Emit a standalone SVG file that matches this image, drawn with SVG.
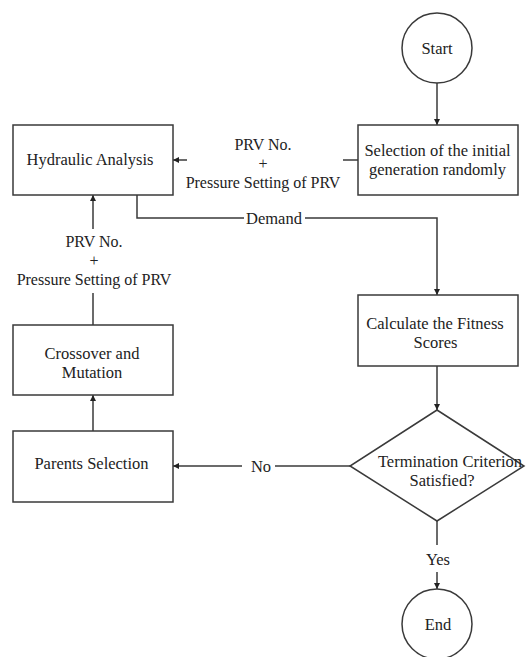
<svg xmlns="http://www.w3.org/2000/svg" width="530" height="657" viewBox="0 0 530 657">
<style>
.n{fill:#fff;stroke:#3a3a3a;stroke-width:1.5}
.c{fill:none;stroke:#3a3a3a;stroke-width:1.5}
text{font-family:'Liberation Serif','DejaVu Serif',serif;font-size:16.5px;fill:#222;text-anchor:middle}
.l{font-size:16px}
</style>
<defs>
<marker id="ah" viewBox="0 0 10 10" refX="10" refY="5" markerWidth="6" markerHeight="6" orient="auto" markerUnits="userSpaceOnUse">
<path d="M0,0 L10,5 L0,10 z" fill="#222"/>
</marker>
</defs>
<rect width="530" height="657" fill="#fff"/>
<g id="connectors">
<line class="c" x1="437" y1="83" x2="437" y2="125" marker-end="url(#ah)"/>
<line class="c" x1="358" y1="160" x2="343" y2="160"/>
<line class="c" x1="187" y1="160" x2="173" y2="160" marker-end="url(#ah)"/>
<polyline class="c" points="137,195 137,218 244,218"/>
<polyline class="c" points="305,218 437,218 437,295" marker-end="url(#ah)"/>
<line class="c" x1="437" y1="366" x2="437" y2="410" marker-end="url(#ah)"/>
<line class="c" x1="350" y1="466" x2="275" y2="466"/>
<line class="c" x1="242" y1="466" x2="173" y2="466" marker-end="url(#ah)"/>
<line class="c" x1="93" y1="431" x2="93" y2="395" marker-end="url(#ah)"/>
<line class="c" x1="93" y1="325" x2="93" y2="293"/>
<line class="c" x1="93" y1="229" x2="93" y2="195" marker-end="url(#ah)"/>
<line class="c" x1="437" y1="521" x2="437" y2="545"/>
<line class="c" x1="437" y1="572" x2="437" y2="589" marker-end="url(#ah)"/>
<text class="l" x="263" y="150" font-family="Liberation Serif, serif">PRV No.</text>
<text class="l" x="263" y="169" font-family="Liberation Serif, serif">+</text>
<text class="l" x="263" y="188" font-family="Liberation Serif, serif">Pressure Setting of PRV</text>
<text x="274" y="224" font-family="Liberation Serif, serif">Demand</text>
<text class="l" x="94" y="247" font-family="Liberation Serif, serif">PRV No.</text>
<text class="l" x="94" y="266" font-family="Liberation Serif, serif">+</text>
<text class="l" x="94" y="285" font-family="Liberation Serif, serif">Pressure Setting of PRV</text>
<text x="261" y="472" font-family="Liberation Serif, serif">No</text>
<text x="438" y="565" font-family="Liberation Serif, serif">Yes</text>
</g>
<g id="start">
<circle class="n" cx="437" cy="48" r="35"/>
<text x="437" y="54" font-family="Liberation Serif, serif">Start</text>
</g>
<g id="selection">
<rect class="n" x="358" y="125" width="160" height="70"/>
<text x="437.5" y="156" font-family="Liberation Serif, serif">Selection of the initial</text>
<text x="437.5" y="175" font-family="Liberation Serif, serif">generation randomly</text>
</g>
<g id="hydraulic">
<rect class="n" x="13" y="125" width="160" height="70"/>
<text x="90" y="165" font-family="Liberation Serif, serif">Hydraulic Analysis</text>
</g>
<g id="fitness">
<rect class="n" x="358" y="295" width="160" height="71"/>
<text x="435" y="329" font-family="Liberation Serif, serif">Calculate the Fitness</text>
<text x="435.5" y="348" font-family="Liberation Serif, serif">Scores</text>
</g>
<g id="decision">
<polygon class="n" points="437,410 524,466 437,521 350,466"/>
<text x="450" y="467" font-family="Liberation Serif, serif">Termination Criterion</text>
<text x="442" y="486" font-family="Liberation Serif, serif">Satisfied?</text>
</g>
<g id="parents">
<rect class="n" x="13" y="431" width="160" height="71"/>
<text x="91.5" y="469" font-family="Liberation Serif, serif">Parents Selection</text>
</g>
<g id="crossover">
<rect class="n" x="13" y="325" width="160" height="70"/>
<text x="92" y="359" font-family="Liberation Serif, serif">Crossover and</text>
<text x="92" y="378" font-family="Liberation Serif, serif">Mutation</text>
</g>
<g id="end">
<circle class="n" cx="437" cy="624" r="35"/>
<text x="438" y="630" font-family="Liberation Serif, serif">End</text>
</g>
</svg>
